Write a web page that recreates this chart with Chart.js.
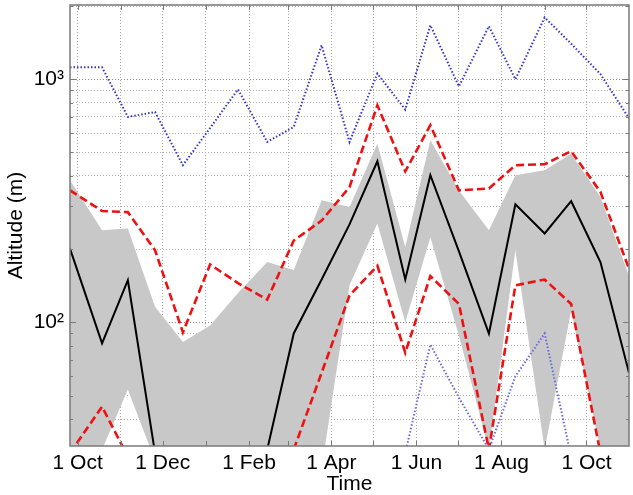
<!DOCTYPE html>
<html>
<head>
<meta charset="utf-8">
<script src="https://cdn.jsdelivr.net/npm/chart.js@4.4.0/dist/chart.umd.min.js"></script>
<style>
html, body { margin: 0; padding: 0; background: #fff; }
</style>
</head>
<body>
<canvas id="altChart" width="633" height="495"></canvas>
<script>
// sample times, days counted from 1 Oct
const days = [-5.5, 17.5, 36, 55.5, 75.5, 95, 115, 136, 155, 175, 195, 215, 235, 253, 273.5, 295, 314, 335, 354, 375, 395.5];

// altitude (m)
const altMax    = [1120, 1120, 700, 733, 443, 630, 908, 552, 637, 1380, 552, 1055, 750, 1667, 935, 1652, 1000, 1795, 1400, 1050, 690];
const altQ75    = [349, 287, 284, 198, 91, 173, 145, 124, 217, 262, 360, 781, 418, 647, 349, 355, 443, 447, 506, 344, 166];
const altMedian = [201, 82, 149, 29, null, null, null, 30, 90, 150, 253, 460, 150, 403, 196, 90, 306, 232, 315, 177, 62];
const altQ25    = [29, 45, 28, null, null, null, null, null, 30, 62, 129, 171, 75, 155, 119, 30, 142, 150, 119, 29, null];
const altMin    = [null, null, null, null, null, null, null, null, null, null, null, null, 29, 81, 49, 30, 60, 90, 28, null, null];
const bandHigh  = [384, 239, 243, 116, 83, 97, 132, 177, 164, 318, 298, 543, 204, 561, 349, 239, 403, 422, 494, 328, 155];
const bandLow   = [20, 30, 53, 27, 20, 20, 20, 20, 20, 25, 142, 255, 100, 224, 88, 30, 198, 30, 112, 30, 20];

// axis ticks
const monthTicks  = [0, 31, 61, 92, 123, 151, 182, 212, 243, 273, 304, 335, 365];
const monthLabels = ['1 Oct', '', '1 Dec', '', '1 Feb', '', '1 Apr', '', '1 Jun', '', '1 Aug', '', '1 Oct'];
const yTicks = [40, 50, 60, 70, 80, 90, 100, 200, 300, 400, 500, 600, 700, 800, 900, 1000, 2000];
const yLabels = { 100: '10\u00b2', 1000: '10\u00b3' };

const pts = arr => arr.map((v, i) => ({ x: days[i], y: v }));
const fontFam = '"Liberation Sans", Arial, Helvetica, sans-serif';

// box round the plot + inside tick marks, like matlab axes
const axesBox = {
    id: 'axesBox',
    afterDatasetsDraw(chart) {
        const { ctx, chartArea: a, scales } = chart;
        ctx.save();
        ctx.strokeStyle = '#7a7a7a';
        ctx.lineWidth = 1;
        ctx.beginPath();
        scales.x.ticks.forEach(t => {
            const px = Math.round(scales.x.getPixelForValue(t.value)) + 0.5;
            ctx.moveTo(px, a.bottom); ctx.lineTo(px, a.bottom - 5);
            ctx.moveTo(px, a.top); ctx.lineTo(px, a.top + 5);
        });
        scales.y.ticks.forEach(t => {
            const py = Math.round(scales.y.getPixelForValue(t.value)) + 0.5;
            const len = yLabels[t.value] ? 6 : 3;
            ctx.moveTo(a.left, py); ctx.lineTo(a.left + len, py);
            ctx.moveTo(a.right, py); ctx.lineTo(a.right - len, py);
        });
        ctx.stroke();
        ctx.lineWidth = 1.5;
        ctx.strokeRect(a.left, a.top, a.right - a.left, a.bottom - a.top);
        ctx.restore();
    }
};

const ctx = document.getElementById('altChart').getContext('2d');
const altChart = new Chart(ctx, {
    type: 'line',
    data: {
        datasets: [
            { data: pts(altMax), borderColor: '#3636c8', borderWidth: 2, borderDash: [1.5, 2], fill: false },
            { data: pts(altMin), borderColor: '#6a6ad8', borderWidth: 2, borderDash: [1.5, 2], fill: false },
            { data: pts(altMedian), borderColor: '#000000', borderWidth: 2, fill: false },
            { data: pts(altQ75), borderColor: '#ee1111', borderWidth: 2.6, borderDash: [8, 4], fill: false },
            { data: pts(altQ25), borderColor: '#ee1111', borderWidth: 2.6, borderDash: [8, 4], fill: false },
            { data: pts(bandHigh), borderWidth: 0, borderColor: 'rgba(0,0,0,0)', backgroundColor: '#c8c8c8', fill: '+1' },
            { data: pts(bandLow), borderWidth: 0, borderColor: 'rgba(0,0,0,0)', fill: false }
        ]
    },
    options: {
        responsive: false,
        animation: false,
        layout: { padding: { top: 5, right: 4, left: 0, bottom: 0 } },
        elements: { point: { radius: 0 }, line: { tension: 0 } },
        plugins: {
            legend: { display: false },
            tooltip: { enabled: false },
            filler: { drawTime: 'beforeDatasetsDraw' }
        },
        scales: {
            x: {
                type: 'linear',
                min: -5.5,
                max: 395.5,
                afterBuildTicks: s => { s.ticks = monthTicks.map(v => ({ value: v })); },
                afterFit: s => { s.height = 49; s.paddingLeft = 0; s.paddingRight = 0; },
                ticks: {
                    autoSkip: false,
                    maxRotation: 0,
                    padding: 5,
                    color: '#000',
                    font: { family: fontFam, size: 21 },
                    callback: v => monthLabels[monthTicks.indexOf(v)] || ''
                },
                grid: { color: '#a8a8a8', drawTicks: false },
                border: { display: false, dash: [1, 2] },
                title: {
                    display: true,
                    text: 'Time',
                    color: '#000',
                    font: { family: fontFam, size: 21, lineHeight: 1 },
                    padding: 0
                }
            },
            y: {
                type: 'logarithmic',
                min: 31,
                max: 2020,
                afterBuildTicks: s => { s.ticks = yTicks.map(v => ({ value: v })); },
                afterFit: s => { s.width = 70; s.paddingTop = 0; s.paddingBottom = 0; },
                ticks: {
                    autoSkip: false,
                    padding: 6,
                    color: '#000',
                    font: { family: fontFam, size: 21 },
                    callback: v => yLabels[v] || ''
                },
                grid: {
                    color: c => (c.tick && yLabels[c.tick.value]) ? '#8a8a8a' : '#b0b0b0',
                    drawTicks: false
                },
                border: { display: false, dash: [1, 2] },
                title: {
                    display: true,
                    text: 'Altitude (m)',
                    color: '#000',
                    font: { family: fontFam, size: 21, lineHeight: 1 },
                    padding: { top: 6, bottom: 0 }
                }
            }
        }
    },
    plugins: [axesBox]
});
</script>
</body>
</html>
